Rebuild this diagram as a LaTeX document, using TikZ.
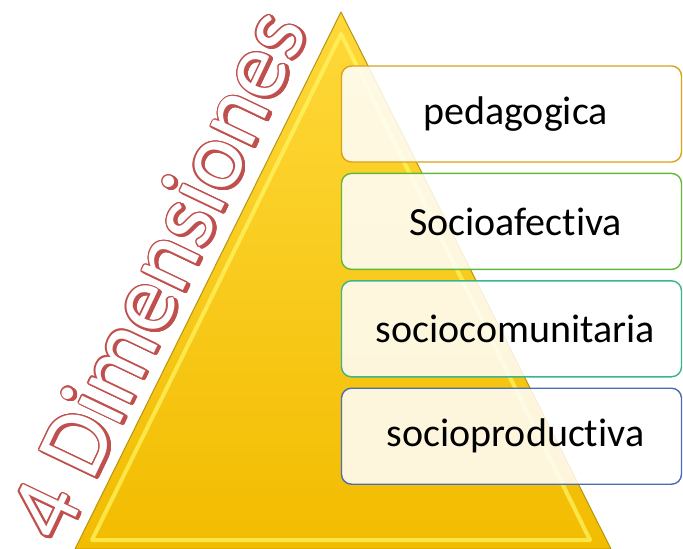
\documentclass[tikz,border=0pt]{standalone}
\usepackage{fontspec}
\setmainfont[Ligatures=NoCommon]{Carlito}
\usepackage{contour}
\contourlength{1.3pt}
\usetikzlibrary{positioning}

\definecolor{pyrtop}{HTML}{FFD93A}
\definecolor{pyrbot}{HTML}{F2BC00}
\definecolor{pyredge}{HTML}{B89410}
\definecolor{dimred}{HTML}{C0504D}
\definecolor{bordgold}{HTML}{D9A31A}
\definecolor{bordgreen}{HTML}{62B83A}
\definecolor{bordteal}{HTML}{3BB58E}
\definecolor{bordblue}{HTML}{4A6DB3}

\tikzset{
	dimbox/.style={draw, line width=1.4pt, rounded corners=10pt, fill=white, fill opacity=.86,
		text opacity=1, minimum width=340pt, minimum height=96pt, inner sep=0pt,
		font=\fontsize{40}{48}\selectfont},
	titlefont/.style={anchor=base west, rotate=64.5, inner sep=0pt, font=\fontsize{96}{110}\selectfont},
}

\begin{document}
\begin{tikzpicture}[x=1pt,y=-1pt]
	\useasboundingbox (0,0) rectangle (683,549);

  % piramide
  \coordinate (apex) at (341,12);
  \coordinate (bl) at (75,549);
  \coordinate (br) at (611,549);
  \shade[top color=pyrtop, bottom color=pyrbot] (apex) -- (br) -- (bl) -- cycle;
  \draw[line width=4pt, yellow!60!white, opacity=.7, line join=round] (341,34) -- (590,540) -- (92,540) -- cycle;
  \draw[line width=1pt, pyredge, line join=round] (apex) -- (br) -- (bl) -- cycle;

  % titulo, con sombra
  \node[titlefont, text=dimred] (sombra) at (64.5,547.5) {\contour{dimred}{4 Dimensiones}};
  \node[titlefont, text=white] (titulo) at (62,546) {\contour{dimred}{4 Dimensiones}};

  % dimensiones
  \node[dimbox, draw=bordgold] (pedagogica) at (511.5,114) {\hspace{8pt}pedagogica};
  \node[dimbox, draw=bordgreen, below=10pt of pedagogica] (socioafectiva) {\hspace{8pt}Socioafectiva};
  \node[dimbox, draw=bordteal, below=10pt of socioafectiva] (sociocomunitaria) {\hspace{8pt}sociocomunitaria};
  \node[dimbox, draw=bordblue, below=10pt of sociocomunitaria] (socioproductiva) {\hspace{8pt}socioproductiva};

\end{tikzpicture}
\end{document}
